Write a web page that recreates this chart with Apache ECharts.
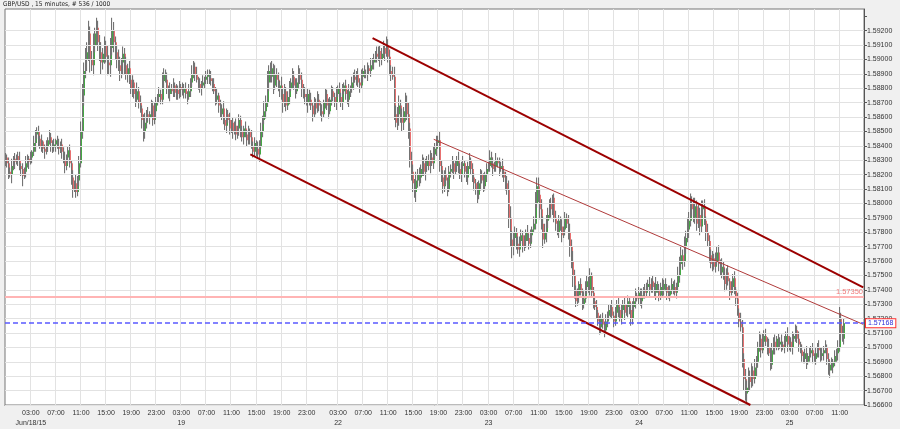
<!DOCTYPE html>
<html><head><meta charset="utf-8">
<script src="https://cdn.jsdelivr.net/npm/echarts@6/dist/echarts.min.js"></script>
<style>html,body{margin:0;padding:0;background:#f0f0f0;}#c{width:900px;height:429px;}</style>
</head><body><div id="c"></div>
<script>
// ---------------- data ----------------
const chartTitle = 'GBP/USD , 15 minutes, # 536 / 1000';
// trading sessions: [start (UTC label time), number of 15-minute slots]
const sessions = [['2015-06-17T23:00:00Z', 196], ['2015-06-21T23:00:00Z', 352]];
const firstDateLabel = 'Jun/18/15';
const priceBase = 1.56;       // prices are stored as pips above this base
const pipSize = 0.0001;
const firstOpen = 230;
// close of each 15-minute bar (pips above 1.5600)
const closePips = [
 232,228,222,220,226,231,229,233,230,226,224,219,222,228,231,229,232,
 236,242,248,250,245,240,243,238,236,240,244,246,242,239,241,244,240,238,241,
 236,230,226,232,237,
 228,218,210,214,208,216,
 228,250,275,292,300,
 305,318,300,296,310,318,322,312,305,298,304,310,302,298,296,308,320,312,305,300,296,
 292,298,304,296,290,294,
 286,280,284,276,272,278,270,266,
 258,250,256,262,260,
 262,268,258,264,
 270,274,276,272,
 285,290,
 286,280,276,280,278,282,277,279,276,281,279,277,280,276,274,
 278,284,290,295,290,
 286,283,280,282,284,286,
 288,290,287,285,283,
 278,272,275,268,
 262,266,258,254,262,258,252,
 256,250,254,248,252,258,250,246,252,248,244,250,246,
 240,236,242,238,234,240,
 250,258,264,270,
 284,292,288,294,282,290,286,280,
 282,276,270,278,268,274,280,
 284,288,282,278,284,290,286,280,276,
 274,270,276,272,268,262,270,266,272,268,264,
 262,270,276,268,264,272,278,274,270,
 276,280,274,270,278,282,276,272,278,280,
 284,288,286,290,284,282,288,292,290,
 290,294,292,296,298,
 300,304,302,306,300,304,
 308,304,310,302,
 292,290,288,
 262,256,262,268,260,256,264,270,262,252,
 230,222,214,208,216,220,
 218,224,228,222,226,230,226,232,228,234,238,242,244,
 226,218,212,220,216,210,222,
 224,228,222,226,230,224,220,226,228,222,218,226,230,
 224,218,214,210,206,214,220,216,212,220,224,
 226,232,228,224,226,230,228,224,226,222,218,
 214,210,
 190,175,170,
 176,180,172,168,174,178,170,174,180,176,172,178,182,186,
 200,212,206,
 196,186,175,180,188,192,
 200,196,204,190,
 186,180,188,184,178,182,190,186,180,
 170,160,150,
 140,132,136,144,138,130,134,142,146,140,150,138,132,128,
 124,118,114,120,116,112,118,122,126,
 128,122,118,124,130,126,120,
 126,130,124,128,132,126,120,128,
 132,136,134,138,132,136,140,138,142,
 144,140,146,142,138,144,140,136,142,
 140,144,142,138,136,140,144,142,138,142,
 150,158,164,160,170,
 176,182,188,
 200,196,190,198,
 186,192,184,196,
 198,188,180,174,
 164,158,162,156,160,166,158,152,156,
 150,144,152,146,138,142,148,140,134,
 124,118,114,
 92,78,68,
 72,80,76,84,78,86,90,
 100,106,98,104,108,
 104,100,96,88,98,104,100,106,102,
 104,102,100,104,108,102,104,100,106,
 108,112,106,102,
 98,94,92,96,90,94,
 96,98,94,92,96,100,98,94,96,98,100,
 92,84,88,86,90,94,
 96,100,
 120,
 110,106,116.8
];
// upper / lower wick length of each bar in pips (one digit per bar)
const upWick = [
 '3243524136','2435324153','3425134253','2413524362','3425263578','6879568475','5746385796','4576354635',
 '3524635247','3524364253','6435243524','3425342536','4352435243','3524352435','2435243524','3425342534',
 '2546375846','5364536453','4536453645','3524352436','4352435243','3524352435','2435243524','3425342534',
 '4536454576','5746375846','5364536453','4536453645','3524352436','4352435243','3524352435','4435243524',
 '5686443534','3425342586','6475645342','3524352436','6574352435','4435243524','3425342534','3524352435',
 '4352435243','3524352436','3425342536','5647586758','6475645364','4536453645','3524352436','5475645364',
 '4536453645','3524352436','4352435243','3524352435','2435243524','358453'
].join('');
const downWick = [
 '4352635243','5724352436','3524352436','4352435253','4356243435','7586947586','6857496857','5647586463',
 '4635243675','4352435243','3524352435','4352435243','3524352435','4352435243','3524352435','4352435243',
 '5352435364','4635264734','3524352436','3527435243','4352435243','3524352435','4352435243','3524352435',
 '4352435243','5846574756','6475645364','3524352435','4352435243','3524352435','4635243524','3524352435',
 '4758654352','4352435243','5746375364','3524352435','7586435243','3524352435','4352435243','3524352735',
 '4352435243','3524352435','4352435243','5364536453','4536453645','3524352435','4352435243','6857364536',
 '4352435243','3524352435','4352435243','3524352435','4352435243','453524'
].join('');
// horizontal grid levels / price axis
const priceMin = 1.566, priceMax = 1.59351, priceStep = 0.001;
const gridLevels = [1.566,1.567,1.568,1.569,1.570,1.571,1.572,1.573,1.574,1.575,1.576,1.577,1.578,
  1.579,1.580,1.581,1.582,1.583,1.584,1.585,1.586,1.587,1.588,1.589,1.590,1.591,1.592];
const refLevel = 1.5735, refLabel = '1.57350';
const lastPrice = 1.57168, lastLabel = '1.57168';
// trend lines: [bar index, price]
const channelUpper = [[234.3, 1.59149], [547, 1.57417]];
const channelLower = [[156.4, 1.58341], [475.4, 1.5660]];
const channelMid = [[272.5, 1.58446], [547, 1.57160]];

// ---------------- build ----------------
const times = [];
sessions.forEach(([start, n]) => { const t0 = Date.parse(start); for (let k = 0; k < n; k++) times.push(t0 + k * 900000); });
const pad = v => String(v).padStart(2, '0');
const categories = times.map(t => { const d = new Date(t); return d.getUTCFullYear() + '-' + pad(d.getUTCMonth() + 1) + '-' + pad(d.getUTCDate()) + ' ' + pad(d.getUTCHours()) + ':' + pad(d.getUTCMinutes()); });
const labelIdx = new Set();
times.forEach((t, i) => { const d = new Date(t); if (i > 8 && d.getUTCMinutes() === 0 && d.getUTCHours() % 4 === 3 && d.getUTCDay() !== 0) labelIdx.add(i); });
const showTick = (i) => labelIdx.has(i);
const toPrice = p => +(priceBase + p * pipSize).toFixed(5);

const candles = [];
let prev = firstOpen;
closePips.forEach((c, i) => {
  const o = prev;
  const hi = Math.max(o, c) + (+(upWick[i] || 3));
  const lo = Math.min(o, c) - (+(downWick[i] || 3));
  candles.push([i, toPrice(o), toPrice(c), toPrice(lo), toPrice(hi)]);
  prev = c;
});

function renderCandle(params, api) {
  const i = api.value(0), o = api.value(1), c = api.value(2), l = api.value(3), h = api.value(4);
  const pH = api.coord([i, h]), pL = api.coord([i, l]), pO = api.coord([i, o]), pC = api.coord([i, c]);
  const x = Math.round(pH[0]);
  const up = c >= o;
  const top = Math.min(pO[1], pC[1]), bot = Math.max(pO[1], pC[1]);
  return { type: 'group', children: [
    { type: 'rect', shape: { x: x - 1, y: pH[1], width: 1.1, height: Math.max(1, pL[1] - pH[1]) }, style: { fill: '#737373' } },
    { type: 'rect', shape: { x: x, y: top, width: 1, height: Math.max(1, bot - top) }, style: { fill: up ? '#45a845' : '#e87070' } }
  ]};
}

const chart = echarts.init(document.getElementById('c'), null, { renderer: 'canvas' });
const font = "'Liberation Sans', Arial, sans-serif";
chart.setOption({
  animation: false,
  backgroundColor: '#f0f0f0',
  textStyle: { fontFamily: font },
  title: { text: chartTitle, left: 1, top: 0, padding: [1, 2],
    textStyle: { fontSize: 6.5, fontWeight: 'normal', color: '#222', fontFamily: "'Liberation Sans Narrow', 'DejaVu Sans Condensed', 'Liberation Sans', sans-serif" } },
  grid: { left: 5, right: 36, top: 9, bottom: 24, containLabel: false, outerBoundsMode: 'none',
    show: true, backgroundColor: '#fff', borderColor: '#777', borderWidth: 1 },
  xAxis: {
    type: 'category', data: categories, boundaryGap: true,
    axisLine: { lineStyle: { color: '#555', width: 1 } },
    axisTick: { show: false },
    axisLabel: { interval: (i) => showTick(i), fontSize: 7, color: '#333', margin: 3, lineHeight: 10,
      formatter: (v, i) => { const d = new Date(times[i]); let s = pad(d.getUTCHours()) + ':' + pad(d.getUTCMinutes());
        if (d.getUTCHours() === 3) s += '\n' + (d.getUTCDate() === 18 ? firstDateLabel : d.getUTCDate()); return s; } },
    splitLine: { show: true, interval: (i) => showTick(i), lineStyle: { color: '#e2e2e2', width: 1 } }
  },
  yAxis: {
    type: 'value', position: 'right', min: priceMin, max: priceMax, interval: priceStep, scale: true,
    axisLine: { show: true, lineStyle: { color: '#555', width: 1 } },
    axisTick: { show: true, length: 3, lineStyle: { color: '#555' } },
    axisLabel: { fontSize: 7, color: '#333', margin: 3, showMaxLabel: false,
      formatter: v => v > 1.5925 ? '' : v.toFixed(5) },
    splitLine: { show: false }
  },
  series: [
    { type: 'line', data: [], z: 1, silent: true, clip: false,
      markLine: { silent: true, symbol: 'none', precision: 6, label: { show: false }, animation: false,
        lineStyle: { color: '#e2e2e2', type: 'solid', width: 1 },
        data: gridLevels.map(v => ({ yAxis: v })) } },
    { type: 'line', data: [], z: 1, silent: true, clip: false,
      markLine: { silent: true, symbol: 'none', precision: 6, animation: false,
        lineStyle: { color: '#ffb4b4', type: 'solid', width: 2 },
        label: { show: true, position: 'insideEndTop', formatter: refLabel, color: '#f07a7a', fontSize: 7.5, distance: [1, 1] },
        data: [{ yAxis: refLevel }] } },
    { type: 'custom', renderItem: renderCandle, data: candles, z: 2, encode: { x: 0, y: [1, 2, 3, 4] }, silent: true },
    { type: 'line', data: [], z: 3, silent: true, clip: false,
      markLine: { silent: true, symbol: 'none', precision: 6, animation: false, label: { show: false },
        data: [
          [{ coord: channelUpper[0], lineStyle: { color: '#9c0000', width: 2, type: 'solid' } }, { coord: channelUpper[1] }],
          [{ coord: channelLower[0], lineStyle: { color: '#9c0000', width: 2, type: 'solid' } }, { coord: channelLower[1] }],
          [{ coord: channelMid[0], lineStyle: { color: '#b03a3a', width: 1, type: 'solid' } }, { coord: channelMid[1] }]
        ] } },
    { type: 'line', data: [], z: 4, silent: true, clip: false,
      markLine: { silent: true, symbol: 'none', precision: 6, animation: false,
        lineStyle: { color: '#5a5aff', type: [5, 3], width: 1.5 },
        label: { show: true, position: 'end', formatter: lastLabel, color: '#2b2bd8', fontSize: 7,
          backgroundColor: '#fff', borderColor: '#ff3030', borderWidth: 1, padding: [1, 2, 0, 2], distance: 2 },
        data: [{ yAxis: lastPrice }] } }
  ]
});
</script></body></html>
